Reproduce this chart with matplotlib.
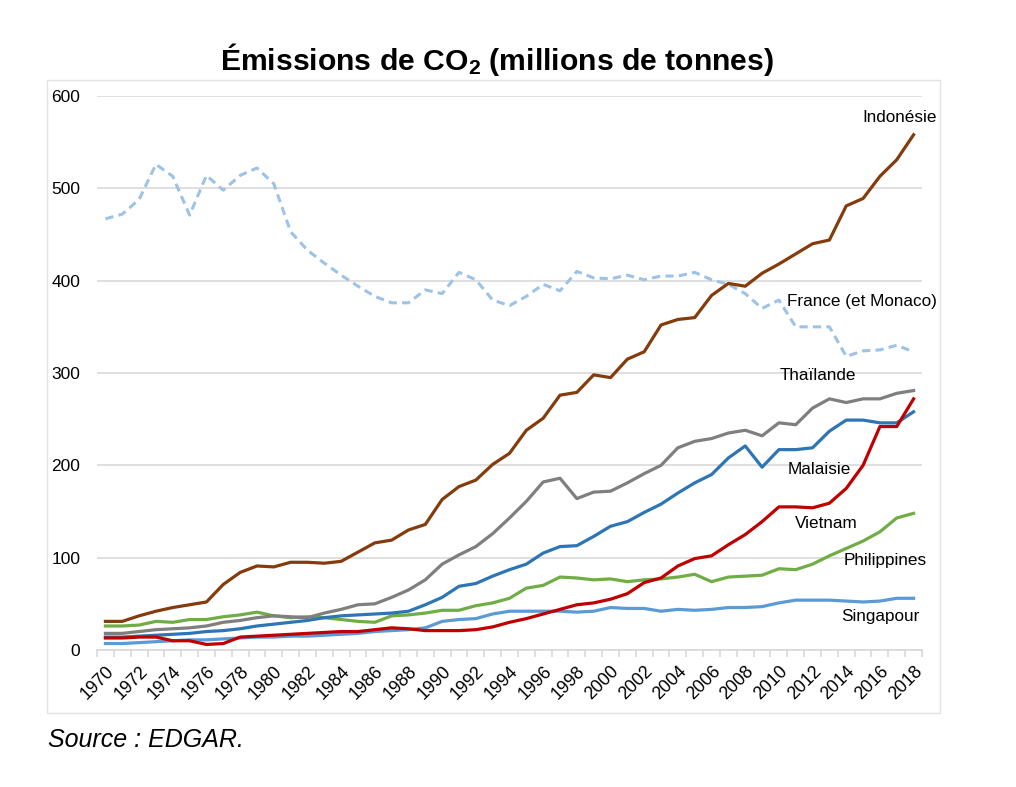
import matplotlib
matplotlib.use("Agg")
import matplotlib.pyplot as plt
from matplotlib.patches import Rectangle
from matplotlib.ticker import FixedLocator, NullFormatter

plt.rcParams['font.family'] = ['Liberation Sans', 'DejaVu Sans']
plt.rcParams['mathtext.fontset'] = 'custom'
plt.rcParams['mathtext.rm'] = 'Liberation Sans'
plt.rcParams['mathtext.bf'] = 'Liberation Sans:bold'

years = list(range(1970, 2019))

france = [467, 472, 488, 526, 513, 471, 514, 498, 514, 522, 505, 453, 433, 419, 406, 394,
          383, 376, 376, 390, 386, 409, 401, 379, 373, 383, 396, 389, 410, 403, 402, 406,
          401, 405, 405, 409, 401, 396, 386, 370, 379, 350, 350, 350, 318, 324, 325, 330, 323]
indonesie = [31, 31, 37, 42, 46, 49, 52, 71, 84, 91, 90, 95, 95, 94, 96, 106,
             116, 119, 130, 136, 163, 177, 184, 201, 213, 238, 251, 276, 279, 298, 295, 315,
             323, 352, 358, 360, 384, 397, 394, 408, 418, 429, 440, 444, 481, 489, 513, 531, 558]
thailande = [18, 18, 20, 22, 23, 24, 26, 30, 32, 35, 37, 36, 35, 40, 44, 49,
             50, 57, 65, 76, 93, 103, 112, 126, 143, 161, 182, 186, 164, 171, 172, 181,
             191, 200, 219, 226, 229, 235, 238, 232, 246, 244, 262, 272, 268, 272, 272, 278, 281]
malaisie = [14, 14, 15, 16, 17, 18, 20, 21, 23, 26, 28, 30, 32, 35, 37, 38,
            39, 40, 42, 49, 57, 69, 72, 80, 87, 93, 105, 112, 113, 123, 134, 139,
            149, 158, 170, 181, 190, 208, 221, 198, 217, 217, 219, 237, 249, 249, 246, 246, 258]
vietnam = [13, 13, 14, 14, 10, 10, 6, 7, 14, 15, 16, 17, 18, 19, 20, 20,
           22, 24, 23, 21, 21, 21, 22, 25, 30, 34, 39, 44, 49, 51, 55, 61,
           73, 78, 91, 99, 102, 114, 125, 139, 155, 155, 154, 159, 175, 200, 242, 242, 272]
philippines = [26, 26, 27, 31, 30, 33, 33, 36, 38, 41, 37, 35, 36, 35, 33, 31,
               30, 37, 38, 40, 43, 43, 48, 51, 56, 67, 70, 79, 78, 76, 77, 74,
               76, 77, 79, 82, 74, 79, 80, 81, 88, 87, 93, 102, 110, 118, 128, 143, 148]
singapour = [7, 7, 8, 9, 10, 11, 11, 12, 13, 14, 14, 15, 15, 16, 17, 18,
             20, 21, 22, 24, 31, 33, 34, 39, 42, 42, 42, 42, 41, 42, 46, 45,
             45, 42, 44, 43, 44, 46, 46, 47, 51, 54, 54, 54, 53, 52, 53, 56, 56]

series = [
    ("France (et Monaco)", france, "#9DC3E6", True),
    ("Singapour", singapour, "#5B9BD5", False),
    ("Philippines", philippines, "#70AD47", False),
    ("Malaisie", malaisie, "#2E75B6", False),
    ("Thaïlande", thailande, "#7F7F7F", False),
    ("Vietnam", vietnam, "#C00000", False),
    ("Indonésie", indonesie, "#843C0C", False),
]

labels = {
    "Indonésie": (49.38, 577, 'right'),
    "France (et Monaco)": (49.38, 377, 'right'),
    "Thaïlande": (42.3, 297, 'center'),
    "Malaisie": (42.4, 196, 'center'),
    "Vietnam": (42.8, 136.5, 'center'),
    "Philippines": (46.3, 96.4, 'center'),
    "Singapour": (46.0, 36.8, 'center'),
}

W, H = 1016, 787
fig = plt.figure(figsize=(W / 100, H / 100), dpi=100)
fig.patch.set_facecolor("white")

# outer chart box
fig.patches.append(Rectangle((47 / W, 1 - 713 / H), (940 - 47) / W, (713 - 80) / H,
                             transform=fig.transFigure, fill=False,
                             edgecolor="#E3E3E3", linewidth=1.0))

ax = fig.add_axes([97 / W, 1 - 650 / H, 825 / W, 554 / H])
x = list(range(len(years)))

for name, vals, color, dashed in series:
    if dashed:
        ax.plot(x, vals, color=color, lw=2.2, dashes=(2.7, 1.7), solid_capstyle='butt',
                zorder=3)
    else:
        ax.plot(x, vals, color=color, lw=2.3, zorder=3, solid_joinstyle='round')

for name, (lx, ly, ha) in labels.items():
    ax.text(lx, ly, name, ha=ha, va='center', fontsize=12.3, color='black',
            clip_on=False)

ax.set_xlim(-0.5, len(years) - 0.5)
ax.set_ylim(0, 600)
ax.set_yticks(range(0, 601, 100))
ax.yaxis.grid(True, color="#D9D9D9", lw=1.2)
ax.set_axisbelow(True)
ax.tick_params(axis='y', length=0, pad=12, labelsize=12.5)

for s in ['left', 'right', 'top']:
    ax.spines[s].set_visible(False)
ax.spines['bottom'].set_color("#D9D9D9")
ax.spines['bottom'].set_linewidth(1.2)

ax.xaxis.set_major_locator(FixedLocator([i - 0.5 for i in range(len(years) + 1)]))
ax.xaxis.set_major_formatter(NullFormatter())
ax.tick_params(axis='x', which='major', length=5, color="#D9D9D9", width=1.2)
lab_idx = list(range(0, len(years), 2))
ax.set_xticks(lab_idx, minor=True)
ax.set_xticklabels([str(years[i]) for i in lab_idx], minor=True, rotation=45,
                   ha='right', va='top', rotation_mode='anchor', fontsize=12.8)
ax.tick_params(axis='x', which='minor', length=0, pad=9)

fig.text(497 / W, 1 - 60 / H, r"Émissions de CO$\mathbf{_2}$ (millions de tonnes)",
         ha='center', va='center', fontsize=21.7, fontweight='bold')
fig.text(48 / W, 1 - 740 / H, "Source : EDGAR.", ha='left', va='center',
         fontsize=18, style='italic')

fig.savefig("out.png", dpi=100, facecolor="white")
